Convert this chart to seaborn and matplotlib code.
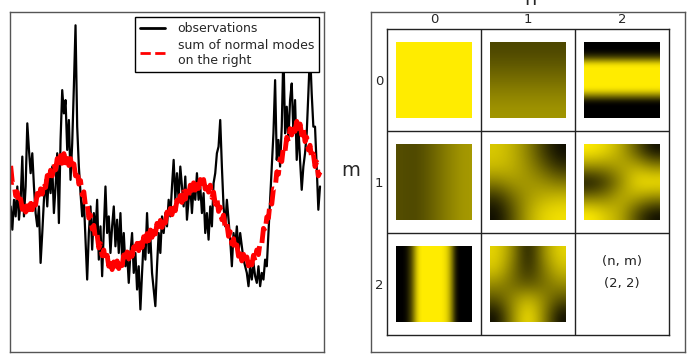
import numpy as np
import matplotlib
matplotlib.use("Agg")
import matplotlib.pyplot as plt
from matplotlib.colors import LinearSegmentedColormap
import seaborn as sns

# ---------------- data ----------------
# observations (sample index 0..186)
obs = [
    4.4, 3.7, 4.6, 4.1, 5.0, 4.0, 4.6, 5.9, 4.1, 5.0, 6.9, 6.1, 5.4, 6.0, 5.0,
    4.2, 3.8, 4.4, 2.7, 3.6, 4.6, 5.2, 4.4, 5.4, 4.8, 5.6, 4.2, 5.0, 6.0, 3.9,
    6.4, 7.9, 7.2, 7.6, 6.1, 7.0, 5.2, 6.3, 8.0, 9.85, 6.8, 5.6, 4.8,
    4.1, 4.6, 3.4, 2.2, 3.6, 4.4, 3.1, 4.2, 3.6, 4.6, 2.8, 3.8, 2.3, 3.7, 5.0,
    3.6, 4.1, 3.0, 3.8, 4.4, 3.2, 4.0, 3.0, 4.2, 2.8, 3.6, 2.6, 3.0, 2.1, 3.0,
    3.6, 2.4, 3.0, 1.9, 2.6, 1.3, 2.4, 3.4, 2.8, 4.2, 3.0, 3.5, 2.4, 1.9, 1.4,
    2.6, 3.6, 3.0, 4.1, 3.6, 4.2, 3.8, 4.6, 4.1, 5.0, 5.8, 4.6, 5.4, 4.6, 5.6,
    5.0, 4.4, 5.3, 4.0, 4.6, 5.0, 4.2, 5.0, 4.6, 5.4, 4.6, 5.0, 4.2, 4.8, 3.6,
    4.2, 3.4, 4.4, 3.8, 5.1, 5.4, 6.0, 6.2, 7.0, 5.6, 4.4, 3.8, 4.6, 4.0, 3.4,
    2.6, 3.6, 3.2, 3.8, 3.0, 3.6, 3.2, 2.8, 2.6, 2.4, 2.0, 2.6, 2.2, 2.7, 2.3,
    2.1, 2.6, 2.0, 2.4, 2.2, 2.8, 2.6, 3.6, 4.6, 5.6, 6.6, 8.2, 5.8, 6.4, 5.6,
    6.8, 9.1, 6.6, 7.4, 6.4, 7.6, 8.1, 6.6, 7.6, 5.8, 6.8, 5.8, 4.9, 5.6, 6.0,
    6.6, 7.8, 9.1, 7.8, 6.8, 6.8, 5.6, 4.3, 5.0,
]
obs_t = list(range(len(obs)))

# sum of normal modes (same samples, noisy)
modes_sum = [
    5.62, 5.12, 5.13, 4.72, 4.83, 4.47, 4.62, 4.31, 4.54, 4.23, 4.42, 4.19,
    4.49, 4.30, 4.63, 4.44, 4.79, 4.60, 4.93, 4.77, 5.14, 4.97, 5.33, 5.15,
    5.49, 5.32, 5.68, 5.50, 5.84, 5.62, 5.93, 5.70, 5.99, 5.71, 5.95, 5.63,
    5.84, 5.50, 5.68, 5.32, 5.49, 5.07, 5.18, 4.75, 4.84, 4.40, 4.48, 4.05,
    4.14, 3.72, 3.83, 3.42, 3.54, 3.15, 3.28, 2.92, 3.09, 2.75, 2.93, 2.60,
    2.79, 2.50, 2.73, 2.48, 2.76, 2.53, 2.83, 2.62, 2.94, 2.72, 3.03, 2.82,
    3.14, 2.90, 3.18, 2.97, 3.29, 3.07, 3.38, 3.17, 3.49, 3.27, 3.58, 3.37,
    3.69, 3.47, 3.78, 3.57, 3.89, 3.67, 3.98, 3.77, 4.09, 3.90, 4.23, 4.02,
    4.34, 4.15, 4.48, 4.27, 4.59, 4.40, 4.73, 4.52, 4.84, 4.62, 4.93, 4.72,
    5.04, 4.81, 5.11, 4.89, 5.19, 4.94, 5.21, 4.95, 5.21, 4.92, 5.15, 4.83,
    5.04, 4.67, 4.83, 4.47, 4.64, 4.25, 4.38, 4.00, 4.14, 3.75, 3.88, 3.50,
    3.64, 3.27, 3.43, 3.07, 3.24, 2.90, 3.08, 2.76, 2.96, 2.66, 2.88, 2.61,
    2.87, 2.64, 2.93, 2.75, 3.09, 2.95, 3.33, 3.27, 3.74, 3.65, 4.08, 4.05,
    4.54, 4.47, 4.93, 4.92, 5.44, 5.37, 5.83, 5.75, 6.19, 6.07, 6.48, 6.35,
    6.74, 6.55, 6.88, 6.66, 6.96, 6.66, 6.88, 6.55, 6.74, 6.35, 6.48, 6.10,
    6.24, 5.85, 5.98, 5.60, 5.74, 5.32, 5.43,
]
modes_t = list(range(len(modes_sum)))

col_labels = ["0", "1", "2"]
row_labels = ["0", "1", "2"]

# mode images (0 = black, 1 = yellow), keyed by (m, n)
mode_00 = [[1.0, 1.0], [1.0, 1.0]]
mode_01 = [[0.30, 0.30], [0.38, 0.38], [0.47, 0.47], [0.56, 0.56], [0.63, 0.63]]
mode_02 = [[0.0], [0.0], [0.3], [1.0], [1.0], [1.0], [1.0], [1.0], [0.5], [0.0], [0.0], [0.0]]
mode_10 = [[0.33, 0.30, 0.38, 0.48, 0.58, 0.65]]
mode_11 = [
    [0.85, 0.75, 0.55, 0.25, 0.05],
    [0.80, 0.75, 0.60, 0.40, 0.20],
    [0.55, 0.65, 0.65, 0.60, 0.50],
    [0.20, 0.45, 0.65, 0.75, 0.80],
    [0.05, 0.35, 0.70, 0.90, 0.95],
]
mode_12 = [
    [1.00, 0.90, 0.70, 0.35, 0.05],
    [0.60, 0.60, 0.70, 0.75, 0.60],
    [0.05, 0.25, 0.60, 0.95, 1.00],
    [0.50, 0.55, 0.75, 0.70, 0.60],
    [1.00, 0.85, 0.70, 0.30, 0.05],
]
mode_20 = [[0.0, 0.0, 0.3, 1.0, 1.0, 1.0, 1.0, 1.0, 0.8, 0.0, 0.0, 0.0]]
mode_21 = [
    [0.90, 0.60, 0.05, 0.60, 0.90],
    [0.85, 0.50, 0.15, 0.50, 0.80],
    [0.60, 0.45, 0.35, 0.45, 0.60],
    [0.35, 0.60, 0.80, 0.60, 0.35],
    [0.05, 0.60, 1.00, 0.60, 0.05],
]
mode_images = {
    (0, 0): mode_00, (0, 1): mode_01, (0, 2): mode_02,
    (1, 0): mode_10, (1, 1): mode_11, (1, 2): mode_12,
    (2, 0): mode_20, (2, 1): mode_21,
}
empty_cell_text = "(n, m)\n(2, 2)"

# ---------------- figure ----------------
sns.set_style("white")
plt.rcParams["font.family"] = ["DejaVu Sans"]

W, H = 698, 364
fig = plt.figure(figsize=(W / 100, H / 100), dpi=100)


def px_axes(x0, y0, x1, y1):
    return fig.add_axes([x0 / W, 1 - y1 / H, (x1 - x0) / W, (y1 - y0) / H])


# left panel
ax = px_axes(10, 12, 324, 352)
sns.lineplot(x=obs_t, y=obs, ax=ax, color="black", lw=1.6,
             label="observations", estimator=None, sort=False)
sns.lineplot(x=modes_t, y=modes_sum, ax=ax, color="red", lw=3.5, linestyle="--",
             label="sum of normal modes\non the right", estimator=None, sort=False)
ax.set_xlim(-0.4, 188.4)
ax.set_ylim(0.02, 10.25)
ax.set_xticks([])
ax.set_yticks([])
for s in ax.spines.values():
    s.set_color("#555555")
    s.set_linewidth(1)
leg = ax.legend(loc="upper right", fontsize=9, frameon=True, fancybox=False,
                framealpha=1, edgecolor="black", handlelength=2.0,
                handletextpad=1.0, borderaxespad=0.4, labelspacing=0.3)
leg.get_frame().set_linewidth(1)
leg.get_lines()[0].set_linewidth(2)
leg.get_lines()[1].set_linewidth(2)
leg.set_zorder(10)

# right panel: outer box
axo = px_axes(371, 12, 685, 352)
axo.set_xticks([])
axo.set_yticks([])
for s in axo.spines.values():
    s.set_color("#555555")
    s.set_linewidth(1)

# grid of modes
cw, ch, isz = 94, 102, 76
axg = px_axes(387, 29, 669, 335)
cmap = LinearSegmentedColormap.from_list("by", ["#000000", "#ffec00"])
for (m, n), img in mode_images.items():
    x0 = n * cw + (cw - isz) / 2
    y0 = m * ch + (ch - isz) / 2
    axg.imshow(np.array(img), cmap=cmap, vmin=0, vmax=1,
               interpolation="bicubic",
               extent=(x0, x0 + isz, y0 + isz, y0))
axg.text(2.5 * cw, 2 * ch + 40, empty_cell_text, ha="center", va="center",
         fontsize=9.5, linespacing=1.9, color="#222222")
for k in (1, 2):
    axg.axvline(k * cw, color="#222222", lw=1)
    axg.axhline(k * ch, color="#222222", lw=1)
axg.set_aspect("auto")
axg.set_xlim(0, 3 * cw)
axg.set_ylim(3 * ch, 0)
axg.xaxis.tick_top()
axg.set_xticks([(i + 0.5) * cw for i in range(3)])
axg.set_xticklabels(col_labels, fontsize=9.5)
axg.set_yticks([(i + 0.5) * ch for i in range(3)])
axg.set_yticklabels(row_labels, fontsize=9.5)
axg.tick_params(length=0, pad=2.5)
for s in axg.spines.values():
    s.set_color("#222222")
    s.set_linewidth(1)

fig.text(351 / W, 1 - 170 / H, "m", ha="center", va="center", fontsize=14)
fig.text(530 / W, 1 - 5 / H, "n", ha="center", va="baseline", fontsize=14)

fig.savefig("out.png", dpi=100)
